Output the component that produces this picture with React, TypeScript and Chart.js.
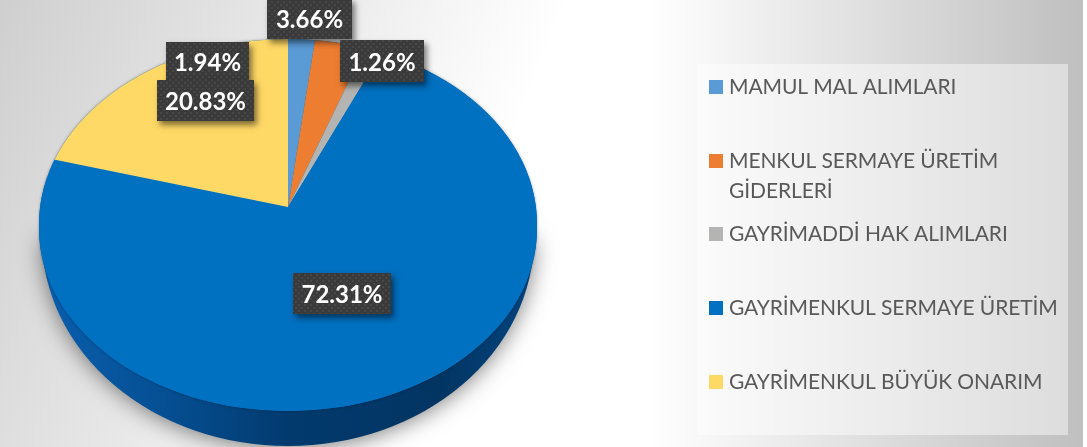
import React, { useEffect, useRef } from "react";
import { Chart, registerables } from "chart.js";

Chart.register(...registerables);

const categories = [
  "MAMUL MAL ALIMLARI",
  "MENKUL SERMAYE ÜRETİM GİDERLERİ",
  "GAYRİMADDİ HAK ALIMLARI",
  "GAYRİMENKUL SERMAYE ÜRETİM",
  "GAYRİMENKUL BÜYÜK ONARIM",
];
const legendLines = [
  ["MAMUL MAL ALIMLARI"],
  ["MENKUL SERMAYE ÜRETİM", "GİDERLERİ"],
  ["GAYRİMADDİ HAK ALIMLARI"],
  ["GAYRİMENKUL SERMAYE ÜRETİM"],
  ["GAYRİMENKUL BÜYÜK ONARIM"],
];
const shares = [1.94, 3.66, 1.26, 72.31, 20.83];
const colors = ["#5b9bd5", "#ed7d31", "#b4b4b2", "#0070c0", "#ffd966"];

const W = 1087;
const H = 447;
const CX = 288;
const CY = 207;
const RX = 249;
const labelBoxes = [
  [166, 42, 83, 39],
  [267, -2, 85, 41],
  [340, 40, 84, 42],
  [293, 273, 98, 41],
  [157, 80, 97, 41],
];
const legendRowY = [87, 161, 234, 308, 382];

function makeDots(ctx: CanvasRenderingContext2D) {
  const c = document.createElement("canvas");
  c.width = 6;
  c.height = 6;
  const p = c.getContext("2d")!;
  p.fillStyle = "#3a3a3a";
  p.fillRect(0, 0, 6, 6);
  p.fillStyle = "#474747";
  p.fillRect(1, 1, 2, 2);
  p.fillRect(4, 4, 2, 2);
  return ctx.createPattern(c, "repeat")!;
}

function rimPath(ctx: CanvasRenderingContext2D) {
  ctx.beginPath();
  ctx.ellipse(CX, 224, RX, 185, 0, Math.PI, 2 * Math.PI);
  ctx.ellipse(CX, 229, RX, 182, 0, 0, Math.PI);
  ctx.closePath();
}

const pie3d = {
  id: "pie3d",
  beforeDatasetDraw(chart: any) {
    const ctx: CanvasRenderingContext2D = chart.ctx;
    const arcs = chart.getDatasetMeta(0).data;
    const r = arcs[0].outerRadius;
    const x0 = arcs[0].x;
    const y0 = arcs[0].y;
    // extruded side wall with a soft cast shadow
    const g = ctx.createLinearGradient(CX - RX, 0, CX + RX, 0);
    g.addColorStop(0, "#0a5fae");
    g.addColorStop(0.25, "#054f93");
    g.addColorStop(0.5, "#023a6e");
    g.addColorStop(0.8, "#023562");
    g.addColorStop(1, "#03447e");
    ctx.save();
    ctx.shadowColor = "rgba(0,0,0,0.5)";
    ctx.shadowBlur = 22;
    ctx.shadowOffsetY = 2;
    ctx.fillStyle = g;
    ctx.beginPath();
    ctx.ellipse(CX, 238, 246, 208, 0, 0, Math.PI);
    ctx.closePath();
    ctx.fill();
    ctx.restore();
    // faint edge round the top face
    ctx.save();
    rimPath(ctx);
    ctx.shadowColor = "rgba(0,0,0,0.35)";
    ctx.shadowBlur = 3;
    ctx.fillStyle = colors[3];
    ctx.fill();
    ctx.restore();
    // top face: library arcs, enlarged and clipped to the perspective rim
    const sy = 300 / r;
    const sx = (300 * 1.32) / r;
    ctx.save();
    rimPath(ctx);
    ctx.clip();
    ctx.translate(CX, CY);
    ctx.scale(sx, sy);
    ctx.translate(-x0, -y0);
    for (const a of arcs) a.draw(ctx);
    ctx.restore();
    return false;
  },
  afterDraw(chart: any) {
    const ctx: CanvasRenderingContext2D = chart.ctx;
    const data: number[] = chart.data.datasets[0].data;
    const pat = makeDots(ctx);
    ctx.save();
    data.forEach((v, i) => {
      const [x, y, w, h] = labelBoxes[i];
      ctx.save();
      ctx.shadowColor = "rgba(0,0,0,0.5)";
      ctx.shadowBlur = 6;
      ctx.shadowOffsetX = 3;
      ctx.shadowOffsetY = 4;
      ctx.fillStyle = "#3a3a3a";
      ctx.fillRect(x, y, w, h);
      ctx.restore();
      ctx.fillStyle = pat;
      ctx.fillRect(x, y, w, h);
      ctx.fillStyle = "#ffffff";
      ctx.font = "bold 24px Lato";
      ctx.textAlign = "center";
      ctx.textBaseline = "middle";
      ctx.fillText(v.toFixed(2) + "%", x + w / 2, y + h / 2 + 2);
    });
    // legend
    ctx.font = "21px Lato";
    (ctx as any).letterSpacing = "-0.1px";
    ctx.textAlign = "left";
    ctx.textBaseline = "middle";
    legendLines.forEach((lines, i) => {
      const y = legendRowY[i];
      ctx.fillStyle = colors[i];
      ctx.fillRect(709, y - 7, 14, 14);
      ctx.fillStyle = "#595959";
      lines.forEach((t, j) => ctx.fillText(t, 729, y + j * 30));
    });
    ctx.restore();
  },
};

export default function App() {
  const ref = useRef<HTMLCanvasElement>(null);
  useEffect(() => {
    const chart = new Chart(ref.current!, {
      type: "pie",
      data: {
        labels: categories,
        datasets: [
          {
            data: shares,
            backgroundColor: colors,
            borderWidth: 0,
          },
        ],
      },
      options: {
        responsive: false,
        animation: false,
        layout: { padding: { right: 500 } },
        plugins: { legend: { display: false }, tooltip: { enabled: false } },
      },
      plugins: [pie3d],
    } as any);
    return () => chart.destroy();
  }, []);
  return (
    <div
      style={{
        position: "fixed",
        left: 0,
        top: 0,
        width: W,
        height: H,
        overflow: "hidden",
        background: "#ffffff",
      }}
    >
      <div
        style={{
          position: "absolute",
          left: 0,
          top: 0,
          width: 1083,
          height: H,
          background:
            "linear-gradient(90deg, rgba(0,0,0,0) 650px, rgba(0,0,0,0.25) 1083px), linear-gradient(112deg, #cfcfcf 0, #ffffff 45%)",
        }}
      />
      <div
        style={{
          position: "absolute",
          left: 697,
          top: 64,
          width: 371,
          height: 371,
          background: "rgba(255,255,255,0.45)",
        }}
      />
      <canvas
        ref={ref}
        width={W}
        height={H}
        style={{ position: "absolute", left: 0, top: 0, display: "block" }}
      />
    </div>
  );
}
